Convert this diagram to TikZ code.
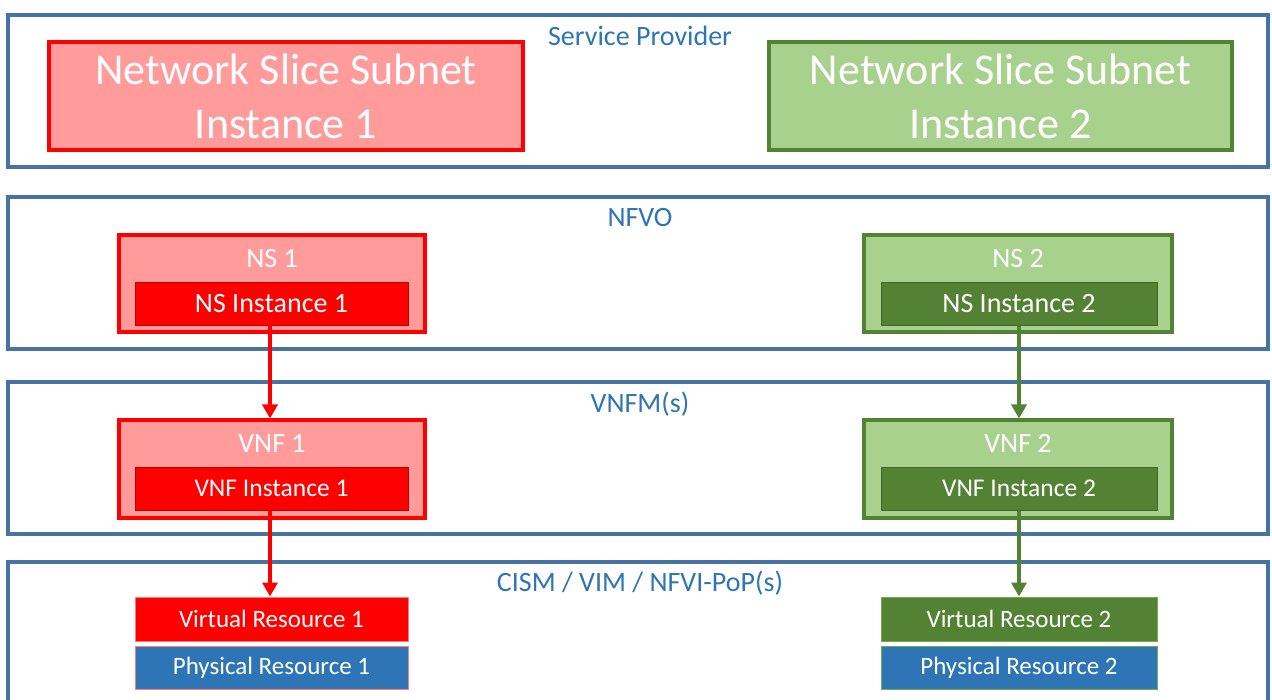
\documentclass[tikz,border=0pt]{standalone}
\usepackage{fontspec}
\setmainfont{Carlito}
\usetikzlibrary{arrows.meta}

\definecolor{layerline}{HTML}{4672A4}
\definecolor{layertext}{HTML}{2E75B6}
\definecolor{redlight}{HTML}{FF9B9B}
\definecolor{redfull}{HTML}{FF0000}
\definecolor{reddark}{HTML}{C00000}
\definecolor{rededge}{HTML}{FF7C7C}
\definecolor{greenlight}{HTML}{A9D18E}
\definecolor{greenline}{HTML}{548235}
\definecolor{greendark}{HTML}{548235}
\definecolor{greenedge}{HTML}{3F6A25}
\definecolor{greenthin}{HTML}{70AD47}
\definecolor{physblue}{HTML}{2E75B6}

\tikzset{
  layer/.style={draw=layerline, line width=4pt, fill=white, minimum width=1260pt, minimum height=152pt, inner sep=0pt},
  layerlabel/.style={text=layertext, font=\fontsize{28}{32}\selectfont, inner sep=0pt},
  bigbox/.style={line width=4pt, minimum height=108pt, inner sep=0pt, text=white,
    align=center, font=\fontsize{44}{54}\selectfont},
  outerbox/.style={line width=4pt, minimum width=306pt, minimum height=97pt, inner sep=0pt},
  innerbox/.style={line width=1pt, minimum width=273pt, minimum height=43pt, inner sep=0pt, text=white},
  boxlabel/.style={text=white, font=\fontsize{28}{32}\selectfont, inner sep=0pt},
  redlink/.style={draw=redfull, line width=4pt, -{Triangle[width=15pt,length=14pt]}},
  greenlink/.style={draw=greenline, line width=4pt, -{Triangle[width=15pt,length=14pt]}},
}

\begin{document}
\begin{tikzpicture}[x=1pt, y=-1pt]
\useasboundingbox (0,0) rectangle (1272,700);
\clip (0,0) rectangle (1272,700);
\fill[white] (0,0) rectangle (1272,700);

% management layers
\node[layer] (sp)   at (638,91)  {};
\node[layer] (nfvo) at (638,273) {};
\node[layer] (vnfm) at (638,458) {};
\node[layer] (cism) at (638,638) {};

\node[layerlabel] (splabel)   at (640,36)  {Service Provider};
\node[layerlabel] (nfvolabel) at (640,218) {NFVO};
\node[layerlabel] (vnfmlabel) at (640,404) {VNFM(s)};
\node[layerlabel] (cismlabel) at (640,583) {CISM / VIM / NFVI-PoP(s)};

% network slice subnet instances
\node[bigbox, draw=redfull, fill=redlight, minimum width=474pt] (nssi1) at (286,96)
  {Network Slice Subnet\\Instance 1};
\node[bigbox, draw=greenline, fill=greenlight, minimum width=463pt] (nssi2) at (1000.5,96)
  {Network Slice Subnet\\Instance 2};

% slice 1 (red)
\node[outerbox, draw=redfull, fill=redlight] (ns1) at (272,283.5) {};
\node[boxlabel] (ns1label) at (272,259) {NS 1};
\node[innerbox, draw=reddark, fill=redfull, font=\fontsize{28}{32}\selectfont] (nsi1) at (271.5,304) {NS Instance 1};

\node[outerbox, draw=redfull, fill=redlight] (vnf1) at (272,469) {};
\node[boxlabel] (vnf1label) at (272,443) {VNF 1};
\node[innerbox, draw=reddark, fill=redfull, font=\fontsize{25.5}{30}\selectfont] (vnfi1) at (271.5,488.5) {VNF Instance 1};

\node[innerbox, draw=rededge, fill=redfull, minimum height=44pt, font=\fontsize{25}{30}\selectfont] (vr1) at (271.5,619) {Virtual Resource 1};
\node[innerbox, draw=rededge, fill=physblue, font=\fontsize{25}{30}\selectfont] (pr1) at (271.5,667.5) {Physical Resource 1};

% slice 2 (green)
\node[outerbox, draw=greenline, fill=greenlight, minimum width=308pt] (ns2) at (1018,283.5) {};
\node[boxlabel] (ns2label) at (1018,259) {NS 2};
\node[innerbox, draw=greenedge, fill=greendark, minimum width=276pt, font=\fontsize{28}{32}\selectfont] (nsi2) at (1019,304) {NS Instance 2};

\node[outerbox, draw=greenline, fill=greenlight, minimum width=308pt] (vnf2) at (1018,469) {};
\node[boxlabel] (vnf2label) at (1018,443) {VNF 2};
\node[innerbox, draw=greenedge, fill=greendark, minimum width=276pt, font=\fontsize{25.5}{30}\selectfont] (vnfi2) at (1019,488.5) {VNF Instance 2};

\node[innerbox, draw=greenthin, fill=greendark, minimum width=276pt, minimum height=44pt, font=\fontsize{25}{30}\selectfont] (vr2) at (1019,619) {Virtual Resource 2};
\node[innerbox, draw=greenthin, fill=physblue, minimum width=276pt, font=\fontsize{25}{30}\selectfont] (pr2) at (1019,667.5) {Physical Resource 2};

% instantiation links
\draw[redlink] (nsi1.south -| 270,0) -- (vnf1.north -| 270,0);
\draw[redlink] (vnfi1.south -| 270,0) -- (vr1.north -| 270,0);
\draw[greenlink] (nsi2.south) -- (vnf2.north -| nsi2.south);
\draw[greenlink] (vnfi2.south) -- (vr2.north);
\end{tikzpicture}
\end{document}
